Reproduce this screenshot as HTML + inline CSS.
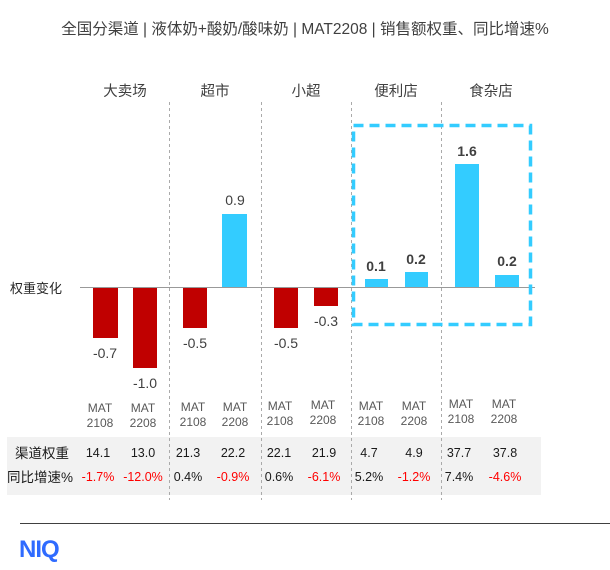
<!DOCTYPE html>
<html><head><meta charset="utf-8"><style>
body{margin:0;width:610px;height:565px;background:#fff;overflow:hidden}
svg text{font-family:"Liberation Sans","Noto Sans CJK SC",sans-serif}
</style></head><body>
<svg width="610" height="565" xmlns="http://www.w3.org/2000/svg">
<text x="305" y="34" font-size="15.5" fill="#404040" text-anchor="middle">全国分渠道 | 液体奶+酸奶/酸味奶 | MAT2208 | 销售额权重、同比增速%</text>
<g font-size="14.5" fill="#404040" text-anchor="middle">
<text x="125" y="96">大卖场</text><text x="215" y="96">超市</text><text x="306" y="96">小超</text><text x="396" y="96">便利店</text><text x="491" y="96">食杂店</text>
</g>
<rect x="7" y="437" width="534" height="58" fill="#f2f2f2"/>
<g stroke="#aaa" stroke-width="1" stroke-dasharray="3,3">
<line x1="169.5" y1="102" x2="169.5" y2="500"/><line x1="261.5" y1="102" x2="261.5" y2="500"/><line x1="351.5" y1="102" x2="351.5" y2="500"/><line x1="441.5" y1="102" x2="441.5" y2="500"/>
</g>
<line x1="80" y1="287.5" x2="535" y2="287.5" stroke="#999" stroke-width="1"/>
<text x="10" y="293" font-size="13" fill="#262626">权重变化</text>
<g fill="#c00000">
<rect x="93" y="288" width="25" height="50"/><rect x="133" y="288" width="24" height="80"/>
<rect x="183" y="288" width="24" height="40"/><rect x="274" y="288" width="24" height="40"/><rect x="314" y="288" width="24" height="18"/>
</g>
<g fill="#33ccff">
<rect x="222" y="214" width="25" height="73"/><rect x="365" y="279" width="23" height="8"/><rect x="405" y="272" width="23" height="15"/><rect x="455" y="164" width="24" height="123"/><rect x="495" y="275" width="24" height="12"/>
</g>
<g font-size="14" fill="#404040" text-anchor="middle">
<text x="105" y="358">-0.7</text><text x="145" y="388">-1.0</text><text x="195" y="348">-0.5</text><text x="235" y="205">0.9</text><text x="286" y="348">-0.5</text><text x="326" y="326">-0.3</text>
</g>
<g font-size="14" font-weight="bold" fill="#404040" text-anchor="middle">
<text x="376" y="271">0.1</text><text x="416" y="264">0.2</text><text x="467" y="156">1.6</text><text x="507" y="266">0.2</text>
</g>
<rect x="353.5" y="125.5" width="177" height="199" fill="none" stroke="#33ccff" stroke-width="3.5" stroke-dasharray="10,6"/>
<g font-size="12" fill="#595959" text-anchor="middle">
<text x="100" y="412">MAT</text><text x="100" y="427">2108</text><text x="143" y="412">MAT</text><text x="143" y="427">2208</text>
<text x="193" y="411">MAT</text><text x="193" y="426">2108</text><text x="235" y="411">MAT</text><text x="235" y="426">2208</text>
<text x="280" y="410">MAT</text><text x="280" y="425">2108</text><text x="323" y="409">MAT</text><text x="323" y="424">2208</text>
<text x="371" y="410">MAT</text><text x="371" y="425">2108</text><text x="414" y="410">MAT</text><text x="414" y="425">2208</text>
<text x="461" y="408">MAT</text><text x="461" y="423">2108</text><text x="504" y="408">MAT</text><text x="504" y="423">2208</text>
</g>
<g font-size="12.5" fill="#1a1a1a" text-anchor="middle">
<text x="42" y="458" font-size="13.5">渠道权重</text>
<text x="98" y="457">14.1</text><text x="143" y="457">13.0</text><text x="188" y="457">21.3</text><text x="233" y="457">22.2</text><text x="279" y="457">22.1</text><text x="324" y="457">21.9</text><text x="369" y="457">4.7</text><text x="414" y="457">4.9</text><text x="459" y="457">37.7</text><text x="505" y="457">37.8</text>
<text x="40" y="482" font-size="13.5">同比增速%</text>
</g>
<g font-size="12.5" text-anchor="middle">
<text x="98" y="481" fill="#ff0000">-1.7%</text><text x="143" y="481" fill="#ff0000">-12.0%</text><text x="188" y="481" fill="#1a1a1a">0.4%</text><text x="233" y="481" fill="#ff0000">-0.9%</text><text x="279" y="481" fill="#1a1a1a">0.6%</text><text x="324" y="481" fill="#ff0000">-6.1%</text><text x="369" y="481" fill="#1a1a1a">5.2%</text><text x="414" y="481" fill="#ff0000">-1.2%</text><text x="459" y="481" fill="#1a1a1a">7.4%</text><text x="505" y="481" fill="#ff0000">-4.6%</text>
</g>
<line x1="20" y1="523.5" x2="610" y2="523.5" stroke="#404040" stroke-width="1"/>
<text x="19" y="557" font-size="24" font-weight="bold" fill="#2f6bff" letter-spacing="-1">NIQ</text>
</svg>
</body></html>
